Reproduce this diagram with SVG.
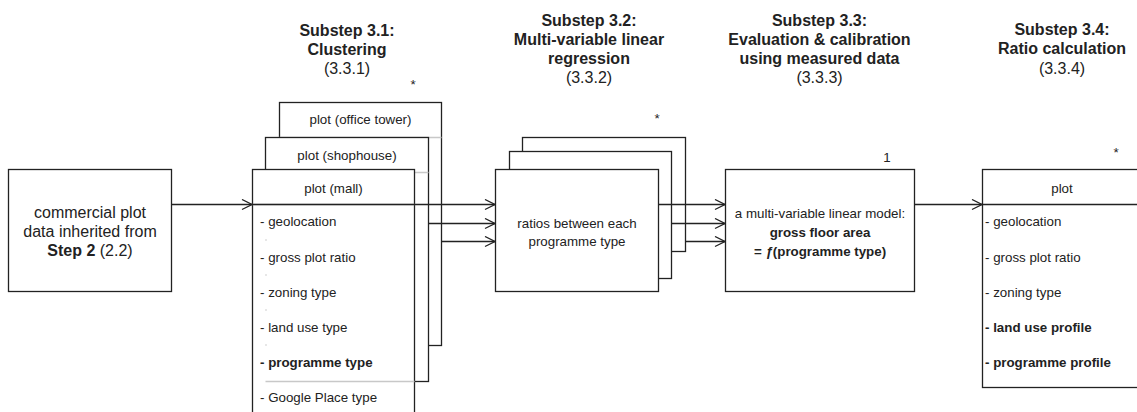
<svg xmlns="http://www.w3.org/2000/svg" width="1137" height="412" viewBox="0 0 1137 412">
<style>
text{font-family:"Liberation Sans",Arial,sans-serif;fill:#222}
.t{font-size:16px}
.s{font-size:13.33px}
.b{font-weight:bold}
.c{text-anchor:middle}
.box{fill:#fff;stroke:#222;stroke-width:1.3}
.ln{fill:none;stroke:#222;stroke-width:1.3}
.sep{fill:none;stroke:#c8c8c8;stroke-width:1.3}
.dot{fill:#c8c8c8}
</style>
<defs>
<marker id="arr" viewBox="0 0 12 12" refX="11" refY="6" markerWidth="12" markerHeight="12" markerUnits="userSpaceOnUse" orient="auto">
<path d="M1,1 L11,6 L1,11" fill="none" stroke="#222" stroke-width="1.3"/>
</marker>
</defs>

<g id="titles">
<text class="t b c" x="347" y="36">Substep 3.1:</text>
<text class="t b c" x="347" y="55">Clustering</text>
<text class="t c" x="347" y="74">(3.3.1)</text>
<text class="t b c" x="589" y="26">Substep 3.2:</text>
<text class="t b c" x="589" y="45">Multi-variable linear</text>
<text class="t b c" x="589" y="64">regression</text>
<text class="t c" x="589" y="83">(3.3.2)</text>
<text class="t b c" x="819.5" y="26">Substep 3.3:</text>
<text class="t b c" x="819.5" y="45">Evaluation &amp; calibration</text>
<text class="t b c" x="819.5" y="64">using measured data</text>
<text class="t c" x="819.5" y="83">(3.3.3)</text>
<text class="t b c" x="1062" y="35">Substep 3.4:</text>
<text class="t b c" x="1062" y="54">Ratio calculation</text>
<text class="t c" x="1062" y="74">(3.3.4)</text>
</g>

<g id="input">
<rect class="box" x="8.5" y="169.5" width="163" height="122"/>
<text class="t c" x="90" y="217.5">commercial plot</text>
<text class="t c" x="90" y="236.5">data inherited from</text>
<text class="t c" x="90" y="255.5"><tspan class="b" font-weight="bold">Step 2</tspan> (2.2)</text>
</g>

<g id="plot-office-tower">
<rect class="box" x="279.5" y="102.5" width="162" height="243"/>
<line class="sep" x1="279.5" y1="137.5" x2="441.5" y2="137.5"/>
<text class="s c" x="360.5" y="123.5">plot (office tower)</text>
<text class="s" x="413" y="89" text-anchor="middle">*</text>
</g>

<g id="plot-shophouse">
<rect class="box" x="265.5" y="137.5" width="163" height="244"/>
<line class="sep" x1="265.5" y1="172.5" x2="428.5" y2="172.5"/>
<text class="s c" x="347" y="159.5">plot (shophouse)</text>
</g>

<g id="plot-mall">
<rect class="box" x="252.5" y="169.5" width="162" height="260"/>
<line class="sep" x1="252.5" y1="204.5" x2="414.5" y2="204.5"/>
<text class="s c" x="333.5" y="192.5">plot (mall)</text>
<text class="s" x="260" y="225.5">- geolocation</text>
<circle class="dot" cx="266" cy="240" r="0.8"/>
<text class="s" x="260" y="261.5">- gross plot ratio</text>
<circle class="dot" cx="266" cy="275" r="0.8"/>
<text class="s" x="260" y="296.5">- zoning type</text>
<circle class="dot" cx="266" cy="310" r="0.8"/>
<text class="s" x="260" y="331.5">- land use type</text>
<circle class="dot" cx="266" cy="345" r="0.8"/>
<text class="s b" x="260" y="366.5">- programme type</text>
<line class="sep" x1="265.5" y1="381.5" x2="414.5" y2="381.5"/>
<text class="s" x="260" y="401.5">- Google Place type</text>
</g>

<g id="ratios">
<rect class="box" x="522.5" y="137.5" width="163" height="114"/>
<rect class="box" x="509.5" y="151.5" width="162" height="127"/>
<rect class="box" x="495.5" y="169.5" width="163" height="122"/>
<text class="s c" x="577" y="227.5">ratios between each</text>
<text class="s c" x="577" y="245.5">programme type</text>
<text class="s c" x="657" y="123">*</text>
</g>

<g id="model">
<rect class="box" x="725.5" y="169.5" width="189" height="122"/>
<text class="s c" x="820" y="217.5">a multi-variable linear model:</text>
<text class="s b c" x="820" y="236.5">gross floor area</text>
<text class="s b c" x="820" y="255.5">= <tspan font-style="italic">ƒ</tspan>(programme type)</text>
<text class="s c" x="887" y="162">1</text>
</g>

<g id="plot-result">
<rect class="box" x="982.5" y="169.5" width="162" height="218"/>
<line class="ln" x1="982.5" y1="204.5" x2="1144" y2="204.5"/>
<text class="s c" x="1062" y="192.5">plot</text>
<text class="s" x="985" y="225.5">- geolocation</text>
<text class="s" x="985" y="261.5">- gross plot ratio</text>
<text class="s" x="985" y="296.5">- zoning type</text>
<text class="s b" x="985" y="331.5">- land use profile</text>
<text class="s b" x="985" y="366.5">- programme profile</text>
<text class="s c" x="1116" y="157">*</text>
</g>

<g id="connectors">
<line class="ln" x1="171.5" y1="204.5" x2="252" y2="204.5" marker-end="url(#arr)"/>
<line class="ln" x1="252.5" y1="204.5" x2="495" y2="204.5" marker-end="url(#arr)"/>
<line class="ln" x1="428.5" y1="223.5" x2="495" y2="223.5" marker-end="url(#arr)"/>
<line class="ln" x1="441.5" y1="241.5" x2="495" y2="241.5" marker-end="url(#arr)"/>
<line class="ln" x1="658.5" y1="204.5" x2="725" y2="204.5" marker-end="url(#arr)"/>
<line class="ln" x1="671.5" y1="223.5" x2="725" y2="223.5" marker-end="url(#arr)"/>
<line class="ln" x1="685.5" y1="241.5" x2="725" y2="241.5" marker-end="url(#arr)"/>
<line class="ln" x1="914.5" y1="204.5" x2="982" y2="204.5" marker-end="url(#arr)"/>
</g>
</svg>
